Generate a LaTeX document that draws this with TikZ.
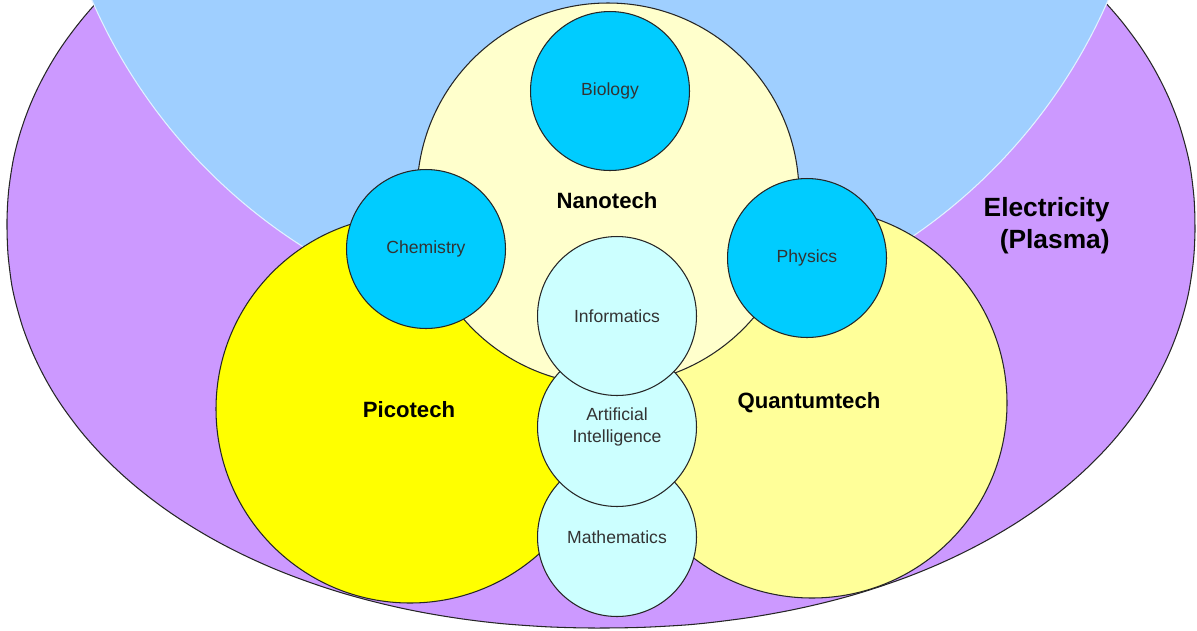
\documentclass[tikz,border=0pt]{standalone}
\usepackage{fontspec}
\setmainfont{Liberation Sans}
\definecolor{plasmafill}{HTML}{CC99FF}
\definecolor{skyfill}{HTML}{9FCFFF}
\definecolor{nanofill}{HTML}{FFFFCC}
\definecolor{picofill}{HTML}{FFFF00}
\definecolor{quantfill}{HTML}{FFFF99}
\definecolor{scifill}{HTML}{00CCFF}
\definecolor{infofill}{HTML}{CCFFFF}
\definecolor{labelgray}{HTML}{333333}

\begin{document}
\begin{tikzpicture}[x=.02cm,y=-.02cm,
  rim/.style={draw=black!85,line width=.6pt},
  tech/.style={font=\fontsize{12.6}{15}\selectfont\bfseries,inner sep=0pt},
  sci/.style={circle,rim,minimum size=3.18cm,inner sep=0pt,align=center,
    text=labelgray,font=\fontsize{10}{12.5}\selectfont}]
\useasboundingbox (0,0) rectangle (1197,630);
\begin{scope}
\clip (0,0) rectangle (1197,630);
% outer fields
\path[fill=plasmafill,rim] plot[domain=0.5:360.5,samples=181,smooth cycle]
  ({601+594*sign(cos(\x))*pow(abs(cos(\x)),0.952)},{226+402*sign(sin(\x))*pow(abs(sin(\x)),0.952)});
\path[fill=skyfill,draw=white!70!skyfill,line width=.6pt] (600,-221) circle [radius=554];
\end{scope}
% the three techs
\path[fill=picofill,rim] (410,409) circle [radius=194];
\path[fill=quantfill,rim] (812,403) circle [radius=195];
\path[fill=nanofill,rim] (608,194) circle [radius=191];
\node[tech] (pico) at (409,410) {Picotech};
\node[tech] (quant) at (809,403) {Quantumtech};
\node[tech] (nano) at (607,201) {Nanotech};
\node[font=\fontsize{15}{18.2}\selectfont\bfseries,align=right,anchor=east,inner sep=0pt] (plasma) at (1110,226) {Electricity\\(Plasma)};
% sciences
\node[sci,fill=scifill] (bio) at (610,91) {Biology};
\node[sci,fill=scifill] (chem) at (426,249) {Chemistry};
\node[sci,fill=scifill] (phys) at (807,258) {Physics};
\node[sci,fill=infofill] (math) at (617,537) {Mathematics};
\node[sci,fill=infofill] (ai) at (617,427) {Artificial\\Intelligence};
\node[sci,fill=infofill] (info) at (617,316) {Informatics};
\end{tikzpicture}
\end{document}
